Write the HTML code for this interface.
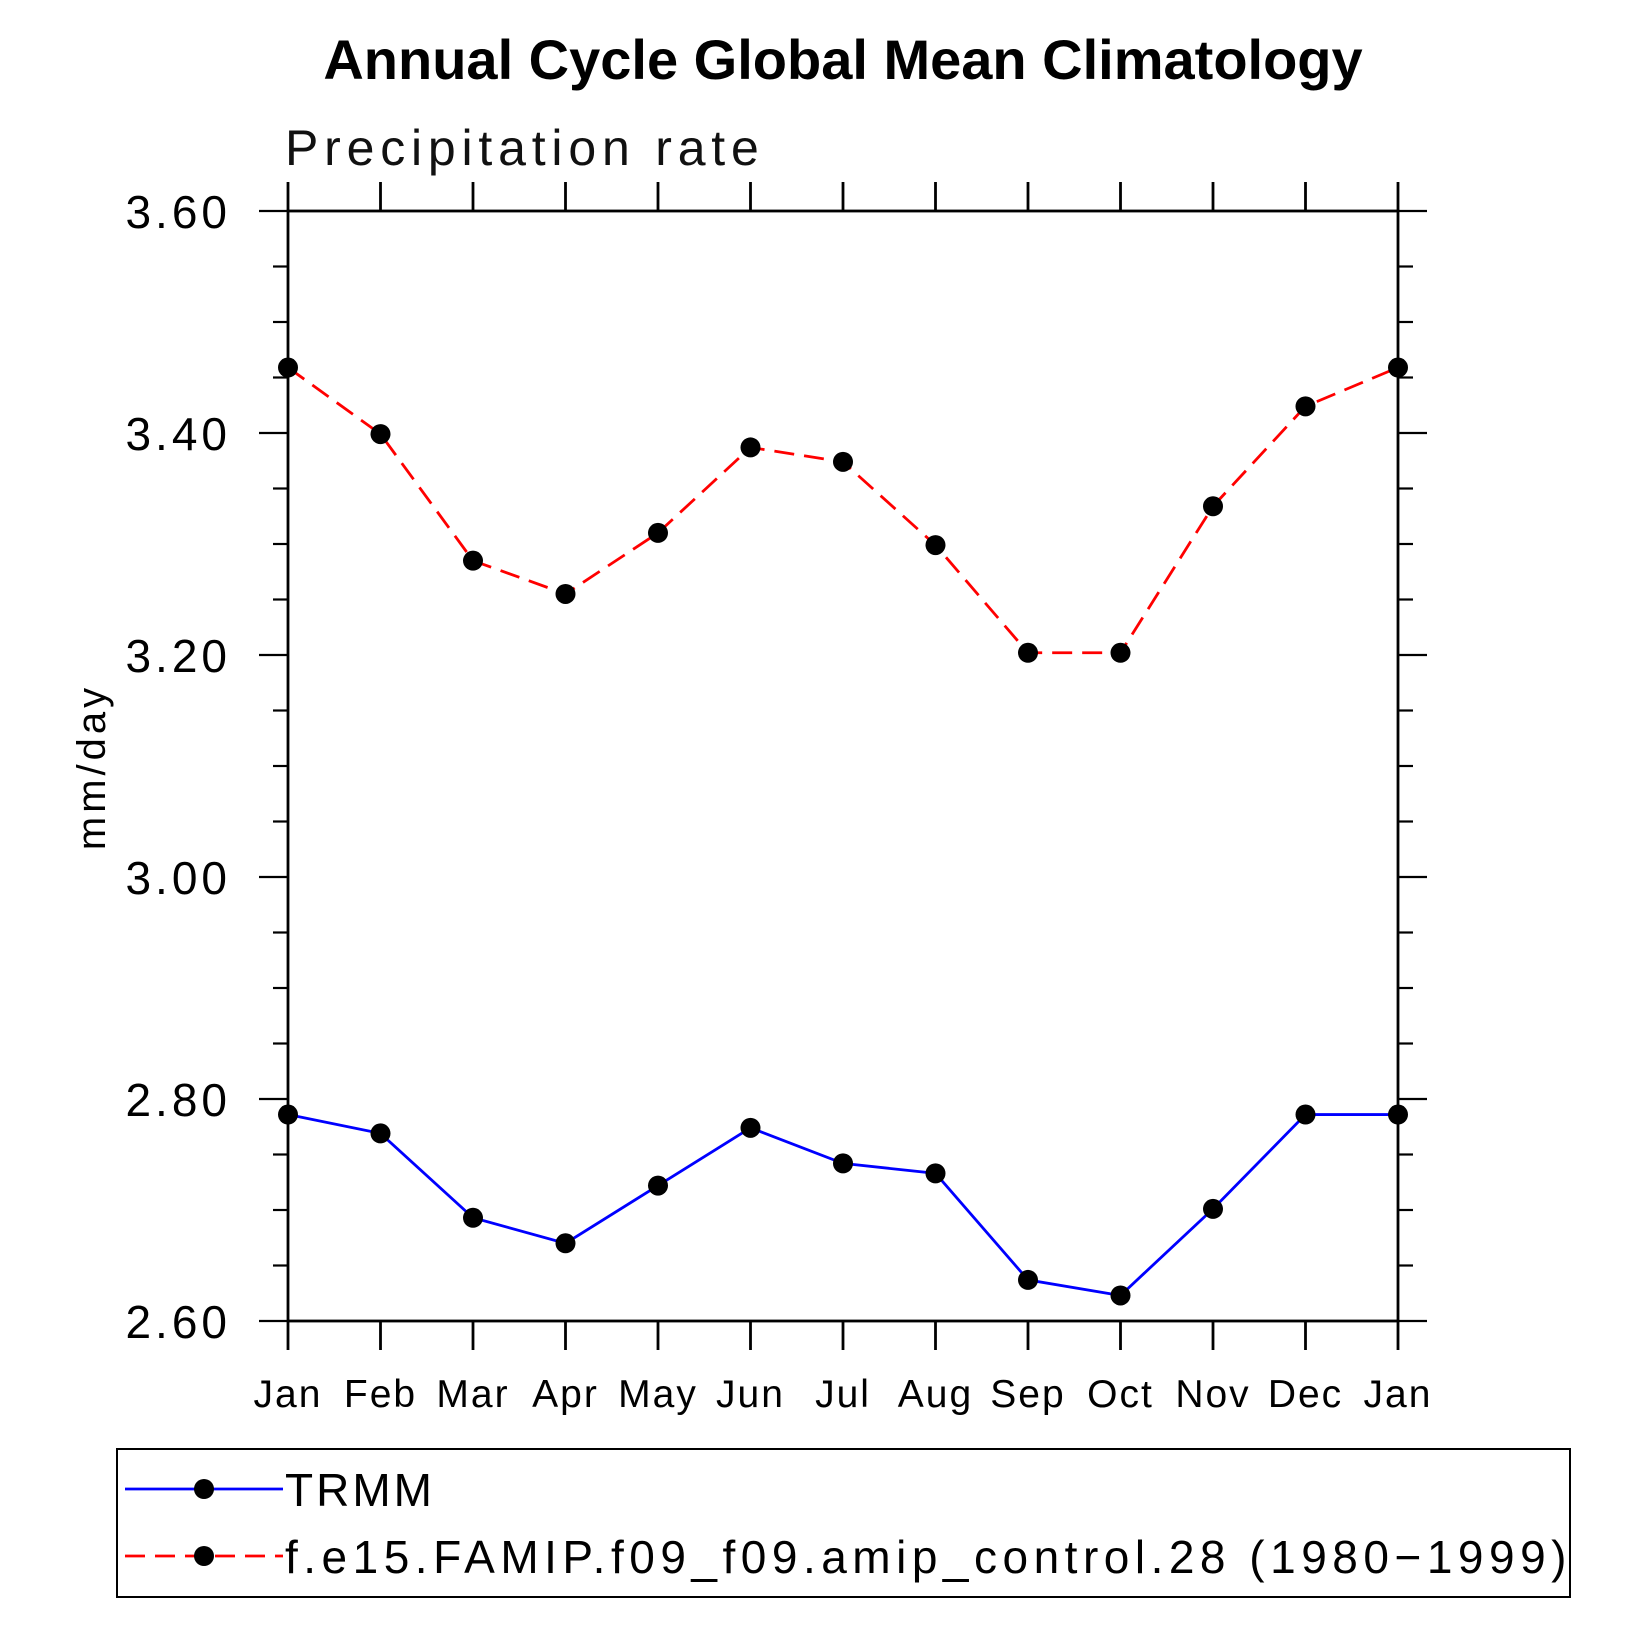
<!DOCTYPE html>
<html><head><meta charset="utf-8"><style>
html,body{margin:0;padding:0;background:#fff}
svg text{font-family:"Liberation Sans","DejaVu Sans",sans-serif}
</style></head><body>
<svg id="chart" width="1635" height="1635" viewBox="0 0 1635 1635" xmlns="http://www.w3.org/2000/svg">
<text x="843" y="79" font-size="56" font-weight="bold" text-anchor="middle">Annual Cycle Global Mean Climatology</text>
<text x="285" y="165" font-size="50" fill="#111" letter-spacing="5.8">Precipitation rate</text>
<text x="0" y="0" font-size="40" text-anchor="middle" transform="translate(105,767) rotate(-90)" letter-spacing="4">mm/day</text>
<g id="axes"></g>
<g id="series"></g>
<g id="legend">
<rect x="117" y="1449" width="1453" height="148" fill="none" stroke="#000" stroke-width="2"/>
</g>
</svg>
<script>
const months = ["Jan","Feb","Mar","Apr","May","Jun","Jul","Aug","Sep","Oct","Nov","Dec","Jan"];
const trmm = [2.786,2.769,2.693,2.670,2.722,2.774,2.742,2.733,2.637,2.623,2.701,2.786,2.786];
const model = [3.459,3.399,3.285,3.255,3.310,3.387,3.374,3.299,3.202,3.202,3.334,3.424,3.459];
const yTicks = [2.6,2.8,3.0,3.2,3.4,3.6];
const yTickLabels = ["2.60","2.80","3.00","3.20","3.40","3.60"];
const seriesNames = ["TRMM","f.e15.FAMIP.f09_f09.amip_control.28 (1980\u22121999)"];

const NS="http://www.w3.org/2000/svg";
const L=288,R=1398,T=211,B=1321, YMIN=2.6,YMAX=3.6;
const xs=i=>L+(R-L)*i/(months.length-1);
const ys=v=>B-(B-T)*(v-YMIN)/(YMAX-YMIN);
function mk(tag,attrs,parent){const e=document.createElementNS(NS,tag);for(const k in attrs)e.setAttribute(k,attrs[k]);parent.appendChild(e);return e;}
const axes=document.getElementById('axes');
const frame=mk('rect',{x:L,y:T,width:R-L,height:B-T,fill:'none',stroke:'#000','stroke-width':2.8},axes);


months.forEach((m,i)=>{
  const x=xs(i);
  const t1=mk('line',{x1:x,x2:x,y1:B,y2:B+29,stroke:'#000','stroke-width':2.8},axes);
  
  
  const t2=mk('line',{x1:x,x2:x,y1:T,y2:T-29,stroke:'#000','stroke-width':2.8},axes);
  
  
  const tx=mk('text',{x:x,y:1407,'font-size':39,'text-anchor':'middle','letter-spacing':2},axes);
  tx.textContent=m;
  
  
});
for(let k=0;k<=20;k++){
  const v=YMIN+k*0.05, y=ys(v), major=k%4===0;
  const len=major?29:15;
  const a=mk('line',{x1:L-len,x2:L,y1:y,y2:y,stroke:'#000','stroke-width':2.2},axes);
  
  
  const b=mk('line',{x1:R,x2:R+len,y1:y,y2:y,stroke:'#000','stroke-width':2.2},axes);
  
  
}
yTicks.forEach((v,i)=>{
  const t=mk('text',{x:231,y:ys(v)+17,'font-size':46,'text-anchor':'end','letter-spacing':4},axes);
  t.textContent=yTickLabels[i];
  
  
});
const ser=document.getElementById('series');
function drawSeries(data,color,dash,name){
  const p=mk('polyline',{points:data.map((v,i)=>xs(i)+','+ys(v)).join(' '),fill:'none',stroke:color,'stroke-width':2.8,'stroke-dasharray':dash},ser);
  
  
  data.forEach((v,i)=>{
    const c=mk('circle',{cx:xs(i),cy:ys(v),r:10,fill:'#000'},ser);
    
    
  });
}
drawSeries(model,'#f00','20 10','model');
drawSeries(trmm,'#00f','none','trmm');
const lg=document.getElementById('legend');
[[1489,'#00f','none'],[1556,'#f00','20 10']].forEach((d,i)=>{
  const l=mk('line',{x1:125,x2:283,y1:d[0],y2:d[0],stroke:d[1],'stroke-width':2.8,'stroke-dasharray':d[2]},lg);
  
  
  const c=mk('circle',{cx:204,cy:d[0],r:10,fill:'#000'},lg);
  
  
  const t=mk('text',{x:285,y:d[0]+17,'font-size':46,'letter-spacing':i===0?3:5.5},lg);
  t.textContent=seriesNames[i];
  
  
});
</script>
</body></html>
